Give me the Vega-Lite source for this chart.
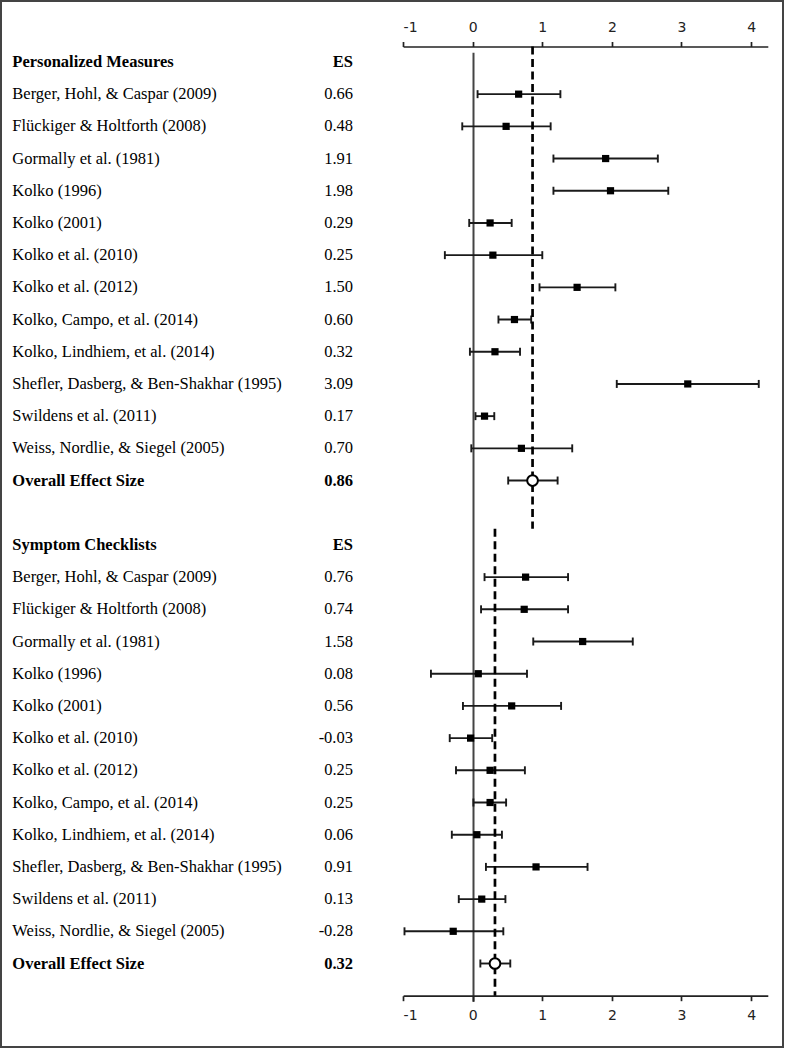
{
  "$schema": "https://vega.github.io/schema/vega-lite/v6.json",
  "width": 782,
  "height": 1046,
  "autosize": {"type": "none"},
  "padding": {"left": 1, "top": 1, "right": 2, "bottom": 3},
  "config": {
    "view": {"stroke": "#444", "strokeWidth": 2},
    "font": "Liberation Serif"
  },
  "datasets": {
    "rows": [
      {"row": 0, "group": "Personalized Measures", "kind": "header", "label": "Personalized Measures", "es_text": "ES"},
      {"row": 1, "group": "Personalized Measures", "kind": "study", "label": "Berger, Hohl, & Caspar (2009)", "es_text": "0.66", "es": 0.66, "lo": 0.07, "hi": 1.26},
      {"row": 2, "group": "Personalized Measures", "kind": "study", "label": "Flückiger & Holtforth (2008)", "es_text": "0.48", "es": 0.48, "lo": -0.15, "hi": 1.12},
      {"row": 3, "group": "Personalized Measures", "kind": "study", "label": "Gormally et al. (1981)", "es_text": "1.91", "es": 1.91, "lo": 1.16, "hi": 2.66},
      {"row": 4, "group": "Personalized Measures", "kind": "study", "label": "Kolko (1996)", "es_text": "1.98", "es": 1.98, "lo": 1.16, "hi": 2.81},
      {"row": 5, "group": "Personalized Measures", "kind": "study", "label": "Kolko (2001)", "es_text": "0.29", "es": 0.25, "lo": -0.05, "hi": 0.56},
      {"row": 6, "group": "Personalized Measures", "kind": "study", "label": "Kolko et al. (2010)", "es_text": "0.25", "es": 0.29, "lo": -0.4, "hi": 1.0},
      {"row": 7, "group": "Personalized Measures", "kind": "study", "label": "Kolko et al. (2012)", "es_text": "1.50", "es": 1.5, "lo": 0.96, "hi": 2.05},
      {"row": 8, "group": "Personalized Measures", "kind": "study", "label": "Kolko, Campo, et al. (2014)", "es_text": "0.60", "es": 0.6, "lo": 0.37, "hi": 0.84},
      {"row": 9, "group": "Personalized Measures", "kind": "study", "label": "Kolko,  Lindhiem, et al. (2014)", "es_text": "0.32", "es": 0.32, "lo": -0.04, "hi": 0.68},
      {"row": 10, "group": "Personalized Measures", "kind": "study", "label": "Shefler, Dasberg, & Ben-Shakhar (1995)", "es_text": "3.09", "es": 3.09, "lo": 2.07, "hi": 4.11},
      {"row": 11, "group": "Personalized Measures", "kind": "study", "label": "Swildens et al. (2011)", "es_text": "0.17", "es": 0.17, "lo": 0.04, "hi": 0.31},
      {"row": 12, "group": "Personalized Measures", "kind": "study", "label": "Weiss, Nordlie, & Siegel (2005)", "es_text": "0.70", "es": 0.7, "lo": -0.02, "hi": 1.43},
      {"row": 13, "group": "Personalized Measures", "kind": "overall", "label": "Overall Effect Size", "es_text": "0.86", "es": 0.86, "lo": 0.51, "hi": 1.22},
      {"row": 15, "group": "Symptom Checklists", "kind": "header", "label": "Symptom Checklists", "es_text": "ES"},
      {"row": 16, "group": "Symptom Checklists", "kind": "study", "label": "Berger, Hohl, & Caspar (2009)", "es_text": "0.76", "es": 0.76, "lo": 0.17, "hi": 1.37},
      {"row": 17, "group": "Symptom Checklists", "kind": "study", "label": "Flückiger & Holtforth (2008)", "es_text": "0.74", "es": 0.74, "lo": 0.12, "hi": 1.37},
      {"row": 18, "group": "Symptom Checklists", "kind": "study", "label": "Gormally et al. (1981)", "es_text": "1.58", "es": 1.58, "lo": 0.87, "hi": 2.3},
      {"row": 19, "group": "Symptom Checklists", "kind": "study", "label": "Kolko (1996)", "es_text": "0.08", "es": 0.08, "lo": -0.6, "hi": 0.78},
      {"row": 20, "group": "Symptom Checklists", "kind": "study", "label": "Kolko (2001)", "es_text": "0.56", "es": 0.56, "lo": -0.14, "hi": 1.27},
      {"row": 21, "group": "Symptom Checklists", "kind": "study", "label": "Kolko et al. (2010)", "es_text": "-0.03", "es": -0.03, "lo": -0.33, "hi": 0.28},
      {"row": 22, "group": "Symptom Checklists", "kind": "study", "label": "Kolko et al. (2012)", "es_text": "0.25", "es": 0.25, "lo": -0.24, "hi": 0.75},
      {"row": 23, "group": "Symptom Checklists", "kind": "study", "label": "Kolko, Campo, et al. (2014)", "es_text": "0.25", "es": 0.25, "lo": 0.01, "hi": 0.48},
      {"row": 24, "group": "Symptom Checklists", "kind": "study", "label": "Kolko,  Lindhiem, et al. (2014)", "es_text": "0.06", "es": 0.06, "lo": -0.3, "hi": 0.42},
      {"row": 25, "group": "Symptom Checklists", "kind": "study", "label": "Shefler, Dasberg, & Ben-Shakhar (1995)", "es_text": "0.91", "es": 0.91, "lo": 0.19, "hi": 1.65},
      {"row": 26, "group": "Symptom Checklists", "kind": "study", "label": "Swildens et al. (2011)", "es_text": "0.13", "es": 0.13, "lo": -0.2, "hi": 0.47},
      {"row": 27, "group": "Symptom Checklists", "kind": "study", "label": "Weiss, Nordlie, & Siegel (2005)", "es_text": "-0.28", "es": -0.28, "lo": -0.98, "hi": 0.44},
      {"row": 28, "group": "Symptom Checklists", "kind": "overall", "label": "Overall Effect Size", "es_text": "0.32", "es": 0.32, "lo": 0.11, "hi": 0.54}
    ],
    "groups": [
      {"group": "Personalized Measures", "overall": 0.86, "row_start": -0.48, "row_end": 14.5},
      {"group": "Symptom Checklists", "overall": 0.32, "row_start": 14.5, "row_end": 29.0}
    ]
  },
  "resolve": {"scale": {"x": "independent"}},
  "layer": [
    {
      "resolve": {"axis": {"x": "independent"}},
      "layer": [
        {
          "data": {"name": "rows"},
          "transform": [{"filter": "datum.kind != 'header'"}],
          "mark": {"type": "rule", "color": "#1a1a1a", "strokeWidth": 1.9},
          "encoding": {
            "x": {"field": "lo", "type": "quantitative",
              "scale": {"domain": [-1, 4.24], "range": [402.1, 766.8], "nice": false, "zero": false},
              "axis": {"orient": "bottom", "values": [0], "grid": true, "gridColor": "#444", "gridWidth": 2, "gridOpacity": 1, "domain": false, "ticks": false, "labels": false, "title": null}},
            "x2": {"field": "hi"},
            "y": {"field": "row", "type": "quantitative",
              "scale": {"domain": [-0.48, 29.0], "range": [45.5, 994.7], "nice": false, "zero": false},
              "axis": null}
          }
        },
        {
          "data": {"name": "rows"},
          "transform": [{"filter": "datum.kind != 'header'"}],
          "mark": {"type": "tick", "orient": "vertical", "color": "#1a1a1a", "size": 8, "thickness": 1.9, "opacity": 1},
          "encoding": {
            "x": {"field": "lo", "type": "quantitative",
              "scale": {"domain": [-1, 4.24], "range": [402.1, 766.8], "nice": false, "zero": false},
              "axis": {"orient": "top", "offset": -45.5, "values": [-1, 0, 1, 2, 3, 4], "grid": false,
                "labelExpr": "datum.value + ''",
                "domainColor": "#222", "domainWidth": 1.7, "tickColor": "#222", "tickWidth": 1.7, "tickSize": 5,
                "labelFont": "DejaVu Sans", "labelFontSize": 14, "labelColor": "#222", "labelPadding": 7, "title": null}},
            "y": {"field": "row", "type": "quantitative", "axis": null}
          }
        },
        {
          "data": {"name": "rows"},
          "transform": [{"filter": "datum.kind != 'header'"}],
          "mark": {"type": "tick", "orient": "vertical", "color": "#1a1a1a", "size": 8, "thickness": 1.9, "opacity": 1},
          "encoding": {
            "x": {"field": "hi", "type": "quantitative",
              "scale": {"domain": [-1, 4.24], "range": [402.1, 766.8], "nice": false, "zero": false},
              "axis": {"orient": "bottom", "offset": -51.3, "values": [-1, 0, 1, 2, 3, 4], "grid": false,
                "labelExpr": "datum.value + ''",
                "domainColor": "#222", "domainWidth": 1.7, "tickColor": "#222", "tickWidth": 1.7, "tickSize": 5,
                "labelFont": "DejaVu Sans", "labelFontSize": 14, "labelColor": "#222", "labelPadding": 8, "title": null}},
            "y": {"field": "row", "type": "quantitative", "axis": null}
          }
        },
        {
          "data": {"name": "groups"},
          "mark": {"type": "rule", "color": "#000", "strokeWidth": 2.7, "strokeDash": [8, 4.5]},
          "encoding": {
            "x": {"field": "overall", "type": "quantitative",
              "scale": {"domain": [-1, 4.24], "range": [402.1, 766.8], "nice": false, "zero": false},
              "axis": null},
            "y": {"field": "row_start", "type": "quantitative", "axis": null},
            "y2": {"field": "row_end"}
          }
        },
        {
          "data": {"name": "rows"},
          "transform": [{"filter": "datum.kind == 'study'"}],
          "mark": {"type": "point", "shape": "square", "filled": true, "size": 52, "color": "#000", "opacity": 1},
          "encoding": {
            "x": {"field": "es", "type": "quantitative",
              "scale": {"domain": [-1, 4.24], "range": [402.1, 766.8], "nice": false, "zero": false},
              "axis": null},
            "y": {"field": "row", "type": "quantitative", "axis": null}
          }
        },
        {
          "data": {"name": "rows"},
          "transform": [{"filter": "datum.kind == 'overall'"}],
          "mark": {"type": "point", "shape": "circle", "filled": false, "fill": "#fff", "fillOpacity": 1, "stroke": "#000", "strokeWidth": 2, "size": 115, "opacity": 1},
          "encoding": {
            "x": {"field": "es", "type": "quantitative",
              "scale": {"domain": [-1, 4.24], "range": [402.1, 766.8], "nice": false, "zero": false},
              "axis": null},
            "y": {"field": "row", "type": "quantitative", "axis": null}
          }
        }
      ]
    },
    {
      "data": {"name": "rows"},
      "transform": [{"fold": ["label", "es_text"], "as": ["column", "cell"]}],
      "mark": {
        "type": "text",
        "font": "Liberation Serif",
        "fontSize": 16.5,
        "color": "#000",
        "baseline": "middle",
        "align": {"expr": "datum.column == 'label' ? 'left' : 'right'"},
        "fontWeight": {"expr": "datum.kind == 'study' ? 'normal' : 'bold'"}
      },
      "encoding": {
        "x": {"field": "column", "type": "nominal",
          "scale": {"type": "point", "domain": ["label", "es_text"], "range": [11.3, 352], "padding": 0},
          "axis": null},
        "y": {"field": "row", "type": "quantitative", "axis": null},
        "text": {"field": "cell"}
      }
    }
  ]
}
